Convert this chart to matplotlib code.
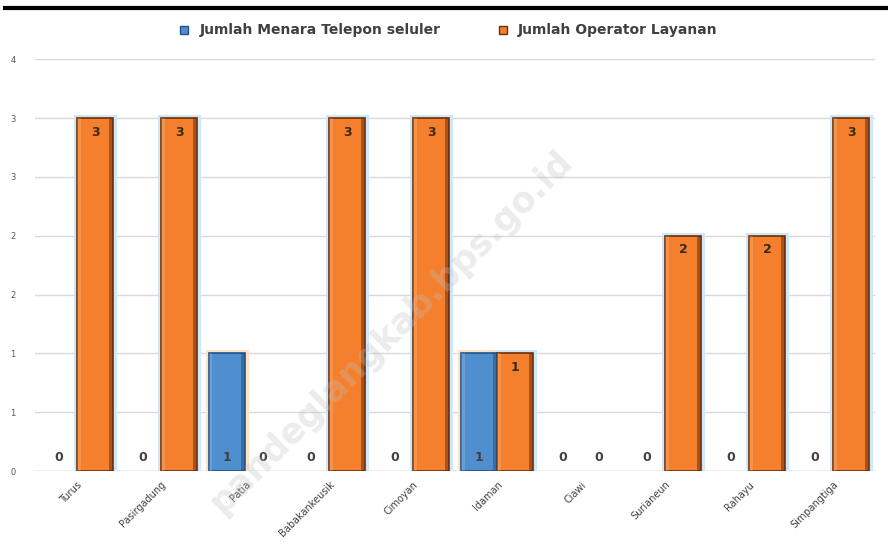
import matplotlib
matplotlib.use('Agg')
import matplotlib.pyplot as plt
import numpy as np
from matplotlib.lines import Line2D

# ---------------------------------------------------------------------------
# Data
# ---------------------------------------------------------------------------
desa = ['Turus', 'Pasirgadung', 'Patia', 'Babakankeusik', 'Cimoyan',
        'Idaman', 'Ciawi', 'Surianeun', 'Rahayu', 'Simpangtiga']
menara = [0, 0, 1, 0, 0, 1, 0, 0, 0, 0]
operator = [3, 3, 0, 3, 3, 1, 0, 2, 2, 3]
ytick_vals = [0, 0.5, 1, 1.5, 2, 2.5, 3, 3.5]
ytick_labels = ['0', '1', '1', '2', '2', '3', '3', '4']
series_names = ['Jumlah Menara Telepon seluler', 'Jumlah Operator Layanan']

BLUE = '#4f8fd0'
BLUE_DARK = '#24517f'
ORANGE = '#f47f2c'
ORANGE_DARK = '#6b2f0a'
TXT = '#404040'

fig = plt.figure(figsize=(8.88, 5.53), dpi=100)
ax = fig.add_axes([0.0394, 0.148, 0.946, 0.745])

x = np.arange(len(desa))
w = 0.43


def draw_bars(xs, vals, face, edge, glow):
    xs = [xi for xi, v in zip(xs, vals) if v > 0]
    vals = [v for v in vals if v > 0]
    # glow behind the bars
    ax.bar(xs, vals, w, color='none', edgecolor=glow, linewidth=5, zorder=2)
    ax.bar(xs, vals, w, color=face, edgecolor=edge, linewidth=1.2, zorder=3)
    # darker right side / lighter left strip to fake the bevel
    for xi, v in zip(xs, vals):
        x0 = xi - w / 2
        ax.bar(x0 + w * 0.88, v, w * 0.12, align='edge', color=edge, alpha=0.55,
               linewidth=0, zorder=4)
        ax.bar(x0, v, w * 0.1, align='edge', color='white', alpha=0.15,
               linewidth=0, zorder=4)


draw_bars(x - w / 2, menara, BLUE, BLUE_DARK, '#fde2c8')
draw_bars(x + w / 2, operator, ORANGE, ORANGE_DARK, '#cfe6fb')

# value labels
for xi, m, o in zip(x, menara, operator):
    ax.text(xi - w / 2, 0.12, str(m), ha='center', va='center',
            fontsize=9, fontweight='bold', color=TXT, zorder=6)
    if o > 0:
        ax.text(xi + w / 2, o - 0.12, str(o), ha='center', va='center',
                fontsize=9, fontweight='bold', color='#3a2a1e', zorder=6)
    else:
        ax.text(xi + w / 2, 0.12, str(o), ha='center', va='center',
                fontsize=9, fontweight='bold', color=TXT, zorder=6)

ax.set_xlim(-0.5, len(desa) - 0.5)
ax.set_ylim(0, 3.5)
ax.set_yticks(ytick_vals)
ax.set_yticklabels(ytick_labels, fontsize=6, color='#595959')
ax.set_xticks(x)
ax.set_xticklabels(desa, rotation=45, ha='right', rotation_mode='anchor',
                   fontsize=7, color=TXT)
ax.tick_params(axis='both', length=0, pad=14)
ax.tick_params(axis='x', pad=6)
ax.yaxis.grid(True, color='#d9d9d9', linewidth=1, zorder=0)
ax.set_axisbelow(True)
for s in ax.spines.values():
    s.set_visible(False)
ax.axhline(0, color='#d0d0d0', linewidth=1, zorder=1)

handles = [Line2D([], [], marker='s', linestyle='none', markersize=6,
                  markerfacecolor=c, markeredgecolor=e)
           for c, e in [(BLUE, BLUE_DARK), (ORANGE, ORANGE_DARK)]]
leg = fig.legend(handles, series_names, loc='center', bbox_to_anchor=(0.5, 0.945),
                 ncol=2, frameon=False, fontsize=10, handletextpad=0.1,
                 columnspacing=3.5)
for t in leg.get_texts():
    t.set_color(TXT)
    t.set_fontweight('bold')

# top rule
fig.add_artist(Line2D([0.006, 1.0], [0.985, 0.985], color='black', linewidth=3,
                      transform=fig.transFigure))

# watermark
fig.text(0.44, 0.40, 'pandeglangkab.bps.go.id', rotation=45, ha='center',
         va='center', fontsize=25, fontweight='bold', color='#c0c0c0',
         alpha=0.3, zorder=10)

fig.savefig('out.png', dpi=100)
